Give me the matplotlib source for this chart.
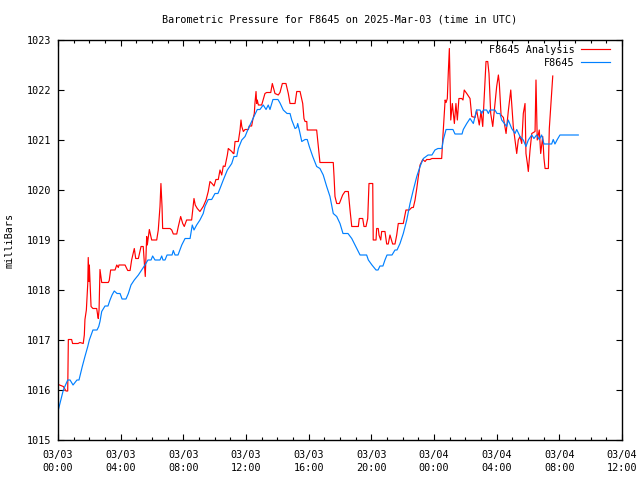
import matplotlib
matplotlib.use('Agg')
import matplotlib.pyplot as plt
from matplotlib.ticker import MultipleLocator, FuncFormatter

# hours since 2025-03-03 00:00 UTC
station_hours = [
    0.02, 0.34, 0.62, 0.77, 0.96, 1.21, 1.34, 1.55, 1.72, 1.90, 2.00, 2.23, 2.49, 2.60,
    2.68, 2.79, 3.00, 3.19, 3.32, 3.45, 3.59, 3.77, 3.96, 4.09, 4.34, 4.49, 4.66, 4.87,
    5.13, 5.34, 5.55, 5.74, 5.94, 6.04, 6.19, 6.51, 6.62, 6.70, 6.83, 6.96, 7.28, 7.36,
    7.47, 7.66, 7.90, 8.11, 8.43, 8.57, 8.68, 8.85, 9.06, 9.27, 9.38, 9.59, 9.81, 10.02,
    10.21, 10.34, 10.55, 10.81, 11.09, 11.23, 11.41, 11.51, 11.73, 11.94, 12.15, 12.36,
    12.51, 12.72, 12.89, 13.10, 13.28, 13.42, 13.53, 13.64, 13.72, 14.04, 14.17, 14.38,
    14.62, 14.81, 14.92, 15.13, 15.24, 15.30, 15.40, 15.56, 15.77, 15.91, 16.04, 16.26,
    16.51, 16.72, 16.93, 17.15, 17.36, 17.57, 17.79, 18.00, 18.19, 18.51, 18.75, 18.96,
    19.17, 19.28, 19.70, 19.81, 20.04, 20.30, 20.43, 20.55, 20.74, 20.87, 21.00, 21.32,
    21.51, 21.64, 21.83, 22.04, 22.26, 22.47, 22.68, 22.90, 23.11, 23.32, 23.62, 23.87,
    24.06, 24.25, 24.51, 24.59, 24.77, 25.21, 25.34, 25.79, 25.87, 26.09, 26.30, 26.51,
    26.72, 26.94, 27.04, 27.15, 27.36, 27.47, 27.57, 27.89, 28.02, 28.21, 28.32, 28.64,
    28.74, 28.96, 29.17, 29.28, 29.49, 29.70, 29.87, 30.02, 30.24, 30.38, 30.55, 30.72,
    30.87, 31.02, 31.51, 31.61, 31.72, 31.87, 32.04, 33.21,
]
station_mb = [
    1015.60, 1016.00, 1016.20, 1016.20, 1016.10, 1016.20, 1016.20, 1016.47, 1016.67,
    1016.87, 1017.00, 1017.20, 1017.20, 1017.27, 1017.37, 1017.57, 1017.68, 1017.68,
    1017.80, 1017.90, 1017.98, 1017.93, 1017.93, 1017.82, 1017.82, 1017.93, 1018.10,
    1018.20, 1018.30, 1018.40, 1018.50, 1018.60, 1018.60, 1018.68, 1018.60, 1018.60,
    1018.68, 1018.60, 1018.60, 1018.70, 1018.70, 1018.79, 1018.70, 1018.70, 1018.90,
    1019.03, 1019.03, 1019.30, 1019.20, 1019.30, 1019.40, 1019.53, 1019.67, 1019.81,
    1019.81, 1019.93, 1019.93, 1020.03, 1020.20, 1020.40, 1020.53, 1020.67, 1020.67,
    1020.83, 1021.00, 1021.07, 1021.23, 1021.37, 1021.47, 1021.61, 1021.61, 1021.70,
    1021.61, 1021.70, 1021.61, 1021.73, 1021.81, 1021.81, 1021.74, 1021.60, 1021.53,
    1021.53, 1021.40, 1021.23, 1021.25, 1021.33, 1021.20, 1020.97, 1021.01, 1021.01,
    1020.87, 1020.67, 1020.47, 1020.43, 1020.30, 1020.07, 1019.87, 1019.53, 1019.47,
    1019.33, 1019.13, 1019.13, 1019.03, 1018.90, 1018.77, 1018.70, 1018.70, 1018.60,
    1018.50, 1018.40, 1018.40, 1018.48, 1018.48, 1018.60, 1018.70, 1018.70, 1018.80,
    1018.80, 1018.93, 1019.13, 1019.40, 1019.73, 1020.00, 1020.27, 1020.47, 1020.63,
    1020.70, 1020.70, 1020.80, 1020.83, 1020.83, 1021.00, 1021.21, 1021.21, 1021.12,
    1021.12, 1021.21, 1021.33, 1021.43, 1021.33, 1021.60, 1021.60, 1021.53, 1021.60,
    1021.60, 1021.53, 1021.60, 1021.60, 1021.53, 1021.53, 1021.40, 1021.27, 1021.40,
    1021.23, 1021.13, 1021.21, 1021.07, 1021.00, 1020.87, 1021.00, 1021.10, 1021.03,
    1021.10, 1021.01, 1021.10, 1020.92, 1020.92, 1021.01, 1020.92, 1021.01, 1021.10,
    1021.10,
]

analysis_hours = [
    0.02, 0.34, 0.51, 0.62, 0.64, 0.66, 0.87, 0.93, 1.28, 1.40, 1.61, 1.68, 1.72, 1.81,
    1.90, 1.93, 1.98, 2.00, 2.11, 2.23, 2.47, 2.53, 2.57, 2.62, 2.68, 2.79, 3.21, 3.27,
    3.36, 3.64, 3.75, 3.85, 3.89, 4.28, 4.45, 4.60, 4.70, 4.87, 4.96, 5.13, 5.30, 5.44,
    5.51, 5.57, 5.66, 5.70, 5.83, 5.98, 6.30, 6.40, 6.51, 6.57, 6.64, 6.68, 7.15, 7.26,
    7.36, 7.58, 7.68, 7.83, 7.96, 8.06, 8.21, 8.53, 8.68, 8.76, 8.89, 9.06, 9.27, 9.45,
    9.59, 9.70, 9.83, 9.96, 10.08, 10.23, 10.34, 10.45, 10.55, 10.66, 10.81, 10.87, 11.09,
    11.19, 11.23, 11.30, 11.51, 11.62, 11.68, 11.73, 11.83, 11.94, 12.15, 12.21, 12.36,
    12.43, 12.53, 12.57, 12.64, 12.68, 12.72, 12.79, 13.00, 13.21, 13.32, 13.58, 13.68,
    13.85, 14.06, 14.17, 14.32, 14.55, 14.70, 14.81, 15.13, 15.24, 15.45, 15.62, 15.70,
    15.77, 15.88, 15.91, 16.51, 16.62, 16.72, 17.57, 17.62, 17.68, 17.79, 17.96, 18.17,
    18.32, 18.53, 18.64, 18.75, 19.17, 19.23, 19.45, 19.53, 19.66, 19.77, 19.85, 20.09,
    20.12, 20.30, 20.34, 20.44, 20.49, 20.60, 20.66, 20.87, 20.98, 21.08, 21.19, 21.36,
    21.51, 21.62, 21.72, 22.04, 22.21, 22.42, 22.58, 22.68, 22.79, 22.90, 23.00, 23.11,
    23.28, 23.43, 23.53, 23.74, 23.87, 24.49, 24.56, 24.71, 24.77, 24.85, 24.91, 24.98,
    25.07, 25.17, 25.30, 25.40, 25.49, 25.59, 25.77, 25.85, 25.93, 26.09, 26.30, 26.41,
    26.62, 26.72, 26.89, 27.00, 27.11, 27.21, 27.32, 27.43, 27.51, 27.62, 27.75, 27.89,
    28.00, 28.11, 28.17, 28.28, 28.43, 28.60, 28.74, 28.90, 28.96, 29.06, 29.17, 29.28,
    29.38, 29.49, 29.60, 29.70, 29.81, 29.87, 29.96, 30.02, 30.13, 30.24, 30.45, 30.51,
    30.59, 30.72, 30.81, 30.94, 31.02, 31.09, 31.30, 31.36, 31.58,
]
analysis_mb = [
    1016.11, 1016.07, 1015.98, 1015.98, 1016.50, 1017.01, 1017.01, 1016.93, 1016.93,
    1016.95, 1016.93, 1017.10, 1017.41, 1017.60, 1018.13, 1018.65, 1018.17, 1018.50,
    1017.67, 1017.63, 1017.63, 1017.50, 1017.43, 1017.60, 1018.41, 1018.15, 1018.15,
    1018.19, 1018.40, 1018.40, 1018.50, 1018.45, 1018.50, 1018.50, 1018.39, 1018.39,
    1018.60, 1018.83, 1018.63, 1018.63, 1018.87, 1018.87, 1018.53, 1018.27, 1019.07,
    1018.90, 1019.21, 1019.00, 1019.00, 1019.20, 1019.67, 1020.13, 1019.67, 1019.23,
    1019.23, 1019.20, 1019.12, 1019.12, 1019.27, 1019.47, 1019.33, 1019.27, 1019.40,
    1019.40, 1019.83, 1019.70, 1019.63, 1019.57, 1019.67, 1019.80, 1019.97, 1020.17,
    1020.13, 1020.08, 1020.21, 1020.21, 1020.40, 1020.30, 1020.48, 1020.47, 1020.70,
    1020.83, 1020.77, 1020.73, 1020.73, 1020.97, 1020.97, 1021.20, 1021.40, 1021.27,
    1021.17, 1021.21, 1021.21, 1021.28, 1021.28, 1021.40, 1021.53, 1021.73, 1021.97,
    1021.73, 1021.80, 1021.70, 1021.70, 1021.93, 1021.95, 1021.95, 1022.13, 1021.93,
    1021.90, 1021.95, 1022.13, 1022.13, 1021.93, 1021.73, 1021.73, 1021.97, 1021.97,
    1021.73, 1021.43, 1021.37, 1021.37, 1021.20, 1021.20, 1020.87, 1020.55, 1020.55,
    1020.27, 1019.87, 1019.73, 1019.73, 1019.90, 1019.97, 1019.97, 1019.60, 1019.27,
    1019.27, 1019.43, 1019.43, 1019.27, 1019.27, 1019.43, 1020.13, 1020.13, 1019.00,
    1019.00, 1019.23, 1019.23, 1019.10, 1019.00, 1019.17, 1019.17, 1018.92, 1018.92,
    1019.10, 1018.92, 1018.92, 1019.10, 1019.33, 1019.33, 1019.60, 1019.60, 1019.65,
    1019.65, 1019.80, 1020.03, 1020.27, 1020.50, 1020.61, 1020.57, 1020.61, 1020.61,
    1020.63, 1020.63, 1021.03, 1021.80, 1021.75, 1021.83, 1022.33, 1022.83, 1021.40,
    1021.73, 1021.33, 1021.73, 1021.40, 1021.83, 1021.83, 1021.80, 1022.00, 1021.93,
    1021.83, 1021.47, 1021.45, 1021.60, 1021.30, 1021.57, 1021.27, 1021.90, 1022.57,
    1022.57, 1022.33, 1021.53, 1021.27, 1021.73, 1022.07, 1022.30, 1022.13, 1021.50,
    1021.45, 1021.13, 1021.57, 1022.00, 1021.73, 1021.27, 1021.00, 1020.73, 1021.00,
    1021.07, 1020.93, 1021.53, 1021.73, 1020.73, 1020.53, 1020.37, 1020.80, 1021.13,
    1021.17, 1022.20, 1021.00, 1021.20, 1020.73, 1021.07, 1020.63, 1020.43, 1020.43,
    1021.23, 1022.28,
]

day_labels = ['03/03', '03/03', '03/03', '03/03', '03/03', '03/03',
              '03/04', '03/04', '03/04', '03/04']
time_labels = ['00:00', '04:00', '08:00', '12:00', '16:00', '20:00',
               '00:00', '04:00', '08:00', '12:00']

plt.rcParams['font.family'] = 'DejaVu Sans Mono'
plt.rcParams['font.size'] = 7.3

fig = plt.figure(figsize=(6.4, 4.8), dpi=100)
ax = fig.add_axes([58 / 640, 40 / 480, 564 / 640, 400 / 480])

ax.plot(analysis_hours, analysis_mb, color='#ff0000', linewidth=0.85,
        label='F8645 Analysis')
ax.plot(station_hours, station_mb, color='#0080ff', linewidth=0.85,
        label='F8645')

ax.set_xlim(0, 36)
ax.set_ylim(1015, 1023)

# x ticks: every 4 h labelled, hourly minor
ax.xaxis.set_major_locator(MultipleLocator(4))
ax.xaxis.set_minor_locator(MultipleLocator(1))
ax.xaxis.set_major_formatter(FuncFormatter(
    lambda v, pos: '%s\n%s' % (day_labels[int(round(v / 4))], time_labels[int(round(v / 4))])
    if 0 <= int(round(v / 4)) < len(day_labels) else ''))
ax.yaxis.set_major_locator(MultipleLocator(1))
ax.yaxis.set_major_formatter(FuncFormatter(lambda v, pos: '%d' % v))

ax.tick_params(which='major', direction='in', length=4.5, width=0.8,
               top=True, right=True, color='black')
ax.tick_params(which='minor', direction='in', length=2.5, width=0.8,
               top=True, right=False)
ax.tick_params(axis='y', which='minor', left=False, right=False)
ax.tick_params(axis='x', pad=7, labelsize=7.3)
ax.tick_params(axis='y', pad=5, labelsize=7.3)
for lab in ax.get_xticklabels():
    lab.set_linespacing(1.35)

for sp in ax.spines.values():
    sp.set_linewidth(1.0)
    sp.set_color('black')

fig.text(340 / 640, 1 - 20 / 480, 'Barometric Pressure for F8645 on 2025-Mar-03 (time in UTC)',
         ha='center', va='center', fontsize=7.3)
fig.text(10 / 640, 0.5, 'milliBars', rotation=90, ha='center', va='center', fontsize=7.3)

leg = ax.legend(loc='upper right', bbox_to_anchor=((610 - 58) / 564, (440 - 45) / 400),
                frameon=False, markerfirst=False, handlelength=2.9,
                handletextpad=0.6, labelspacing=0.28, borderpad=0, borderaxespad=0,
                fontsize=7.3)

fig.savefig('out.png', dpi=100)
